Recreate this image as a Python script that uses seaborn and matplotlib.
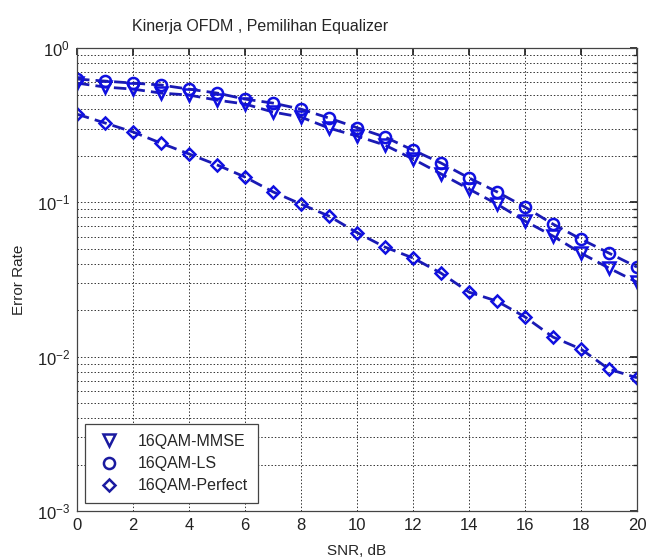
"""Recreate the OFDM equalizer error-rate chart (MATLAB style semilog plot)."""
import matplotlib

matplotlib.use("Agg")

import matplotlib.pyplot as plt  # noqa: E402
import pandas as pd  # noqa: E402
import seaborn as sns  # noqa: E402
from matplotlib.lines import Line2D  # noqa: E402
from matplotlib.ticker import LogLocator, NullFormatter  # noqa: E402

snr_db = list(range(21))

err_mmse = [0.593, 0.559, 0.542, 0.511, 0.496, 0.460, 0.434, 0.385, 0.357, 0.303,
            0.269, 0.235, 0.191, 0.153, 0.122, 0.0975, 0.0757, 0.0605, 0.0469,
            0.0375, 0.0304]
err_ls = [0.630, 0.611, 0.593, 0.576, 0.542, 0.511, 0.467, 0.440, 0.402, 0.352,
          0.305, 0.265, 0.218, 0.180, 0.144, 0.117, 0.0932, 0.0723, 0.0578,
          0.0469, 0.0381]
err_perfect = [0.373, 0.327, 0.286, 0.242, 0.206, 0.175, 0.146, 0.117, 0.0975,
               0.0815, 0.0637, 0.0513, 0.0436, 0.0348, 0.0262, 0.0229, 0.0181,
               0.0134, 0.0112, 0.0083, 0.0073]

series_names = ["16QAM-MMSE", "16QAM-LS", "16QAM-Perfect"]
series_markers = ["v", "o", "D"]

sns.set_theme(style="white")
plt.rcParams["font.family"] = ["Liberation Sans", "DejaVu Sans"]

df = pd.DataFrame({
    "SNR": snr_db * 3,
    "err": err_mmse + err_ls + err_perfect,
    "series": [n for n in series_names for _ in snr_db],
})

line_color = "#1a1ab4"
marker_color = "#1010e0"
msize = {"v": 8, "o": 8, "D": 6.5}

fig = plt.figure(figsize=(6.54, 5.59), dpi=100)
ax = fig.add_axes([0.1177, 0.0859, 0.8563, 0.8281])

for name, mk in zip(series_names, series_markers):
    sub = df[df["series"] == name]
    sns.lineplot(data=sub, x="SNR", y="err", ax=ax, color=line_color,
                 linestyle=(0, (4.5, 2.2)), linewidth=2.0, marker=mk,
                 markersize=msize[mk], markerfacecolor="none",
                 markeredgecolor=marker_color, markeredgewidth=1.8,
                 legend=False)

ax.set_yscale("log")
ax.set_xlim(0, 20)
ax.set_ylim(1e-3, 1e0)
ax.set_xticks(range(0, 21, 2))
ax.yaxis.set_major_locator(LogLocator(base=10, numticks=10))
ax.yaxis.set_minor_locator(LogLocator(base=10, subs=range(2, 10), numticks=20))
ax.yaxis.set_minor_formatter(NullFormatter())

grid_style = dict(color="#333333", linestyle=(0, (1.5, 2)), linewidth=0.7)
ax.grid(True, which="major", **grid_style)
ax.grid(True, which="minor", axis="y", **grid_style)
ax.tick_params(which="both", direction="in", top=True, right=True, labelsize=12,
               colors="#222222", length=5, pad=5)
ax.tick_params(which="minor", length=3)
for sp in ax.spines.values():
    sp.set_color("#444444")
    sp.set_linewidth(0.9)

ax.set_xlabel("SNR, dB", fontsize=11, labelpad=8)
ax.set_ylabel("Error Rate", fontsize=11, labelpad=8)
fig.text(0.398, 0.952, "Kinerja OFDM , Pemilihan Equalizer", ha="center",
         va="center", fontsize=11.5)

handles = [Line2D([], [], linestyle="none", marker=mk, markersize=msize[mk],
                  markerfacecolor="none", markeredgecolor="#1a1aa0", markeredgewidth=1.8)
           for mk in series_markers]
leg = ax.legend(handles, series_names, loc="lower left", bbox_to_anchor=(0.0, 0.0),
                fontsize=11.5, frameon=True, fancybox=False, borderpad=0.6,
                handletextpad=0.9, handlelength=1.8, labelspacing=0.45,
                borderaxespad=0.5)
leg.get_frame().set_edgecolor("#444444")
leg.get_frame().set_linewidth(0.9)
leg.get_frame().set_alpha(1)

fig.savefig("out.png", dpi=100)
